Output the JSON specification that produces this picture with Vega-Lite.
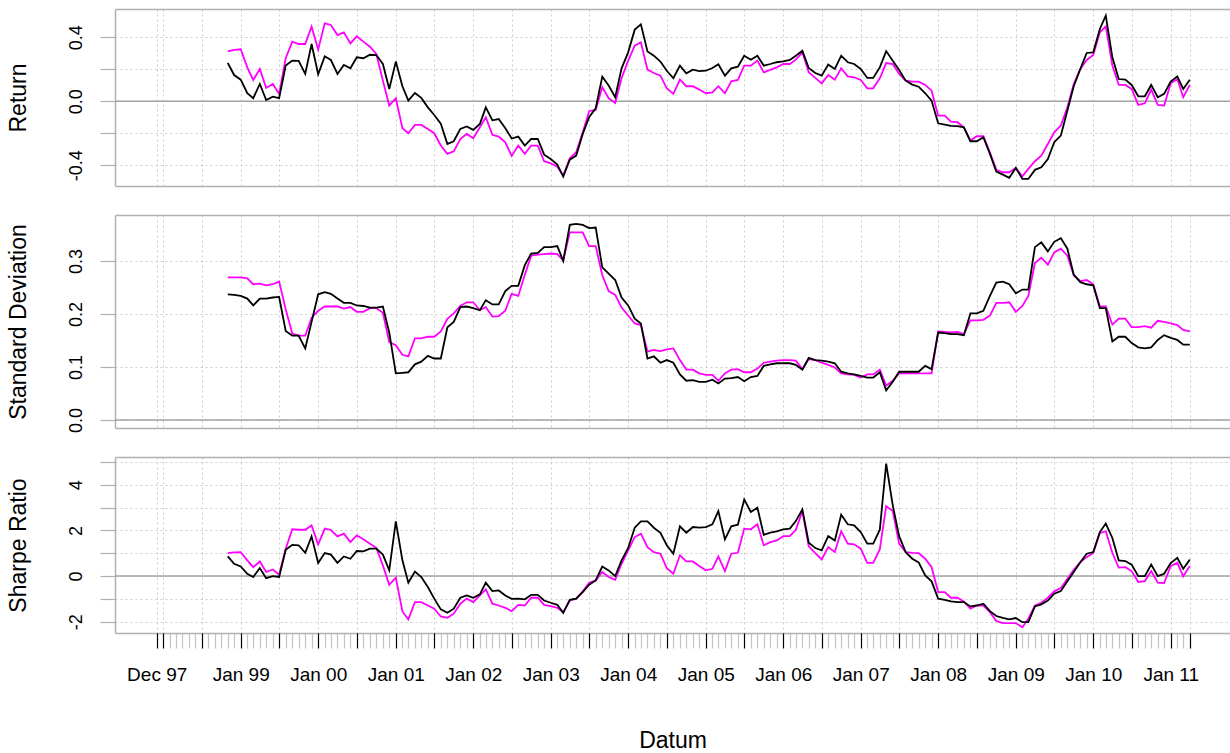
{
"$schema":"https://vega.github.io/schema/vega-lite/v6.json",
"background":"white",
"padding":{"left":7,"top":9,"right":0,"bottom":0},
"autosize":{"type":"pad"},
"spacing":29,
"bounds":"flush",
"config":{"view":{"stroke":null},"font":"Liberation Sans",
 "axis":{"labelFont":"Liberation Sans","titleFont":"Liberation Sans","labelColor":"#000000","titleColor":"#000000","titleFontWeight":"normal","gridColor":"#cccccc","gridDash":[2,3],"gridWidth":1,"domainColor":"#b0b0b0","domainWidth":1.5,"tickColor":"#b0b0b0"}},
"data":{"values":[
{"d":"1998-11-01","ra":0.239,"rb":0.312,"sa":0.237,"sb":0.269,"pa":0.86,"pb":1.01},
{"d":"1998-12-01","ra":0.164,"rb":0.321,"sa":0.236,"sb":0.269,"pa":0.54,"pb":1.04},
{"d":"1999-01-01","ra":0.135,"rb":0.325,"sa":0.234,"sb":0.269,"pa":0.42,"pb":1.05},
{"d":"1999-02-01","ra":0.050,"rb":0.212,"sa":0.229,"sb":0.267,"pa":0.10,"pb":0.69},
{"d":"1999-03-01","ra":0.019,"rb":0.133,"sa":0.216,"sb":0.256,"pa":-0.04,"pb":0.39},
{"d":"1999-04-01","ra":0.108,"rb":0.202,"sa":0.229,"sb":0.257,"pa":0.35,"pb":0.64},
{"d":"1999-05-01","ra":0.008,"rb":0.083,"sa":0.229,"sb":0.254,"pa":-0.09,"pb":0.18},
{"d":"1999-06-01","ra":0.029,"rb":0.108,"sa":0.231,"sb":0.256,"pa":0.00,"pb":0.29},
{"d":"1999-07-01","ra":0.019,"rb":0.046,"sa":0.232,"sb":0.261,"pa":-0.04,"pb":0.06},
{"d":"1999-08-01","ra":0.223,"rb":0.269,"sa":0.168,"sb":0.209,"pa":1.15,"pb":1.20},
{"d":"1999-09-01","ra":0.254,"rb":0.373,"sa":0.159,"sb":0.163,"pa":1.37,"pb":2.05},
{"d":"1999-10-01","ra":0.252,"rb":0.358,"sa":0.159,"sb":0.159,"pa":1.35,"pb":2.03},
{"d":"1999-11-01","ra":0.171,"rb":0.358,"sa":0.135,"sb":0.159,"pa":1.02,"pb":2.03},
{"d":"1999-12-01","ra":0.358,"rb":0.466,"sa":0.185,"sb":0.193,"pa":1.74,"pb":2.22},
{"d":"2000-01-01","ra":0.169,"rb":0.323,"sa":0.237,"sb":0.206,"pa":0.57,"pb":1.39},
{"d":"2000-02-01","ra":0.281,"rb":0.487,"sa":0.241,"sb":0.214,"pa":1.01,"pb":2.08},
{"d":"2000-03-01","ra":0.258,"rb":0.477,"sa":0.238,"sb":0.214,"pa":0.94,"pb":2.02},
{"d":"2000-04-01","ra":0.171,"rb":0.414,"sa":0.229,"sb":0.214,"pa":0.58,"pb":1.74},
{"d":"2000-05-01","ra":0.227,"rb":0.431,"sa":0.221,"sb":0.210,"pa":0.86,"pb":1.86},
{"d":"2000-06-01","ra":0.206,"rb":0.362,"sa":0.221,"sb":0.213,"pa":0.76,"pb":1.49},
{"d":"2000-07-01","ra":0.275,"rb":0.406,"sa":0.216,"sb":0.204,"pa":1.10,"pb":1.78},
{"d":"2000-08-01","ra":0.269,"rb":0.373,"sa":0.215,"sb":0.204,"pa":1.08,"pb":1.61},
{"d":"2000-09-01","ra":0.291,"rb":0.341,"sa":0.212,"sb":0.211,"pa":1.20,"pb":1.42},
{"d":"2000-10-01","ra":0.289,"rb":0.296,"sa":0.212,"sb":0.211,"pa":1.20,"pb":1.24},
{"d":"2000-11-01","ra":0.233,"rb":0.129,"sa":0.214,"sb":0.202,"pa":0.94,"pb":0.47},
{"d":"2000-12-01","ra":0.077,"rb":-0.027,"sa":0.165,"sb":0.147,"pa":0.25,"pb":-0.38},
{"d":"2001-01-01","ra":0.248,"rb":0.019,"sa":0.088,"sb":0.141,"pa":2.40,"pb":-0.07},
{"d":"2001-02-01","ra":0.094,"rb":-0.169,"sa":0.089,"sb":0.123,"pa":0.69,"pb":-1.55},
{"d":"2001-03-01","ra":0.004,"rb":-0.200,"sa":0.090,"sb":0.120,"pa":-0.29,"pb":-1.90},
{"d":"2001-04-01","ra":0.052,"rb":-0.148,"sa":0.105,"sb":0.154,"pa":0.20,"pb":-1.14},
{"d":"2001-05-01","ra":0.021,"rb":-0.148,"sa":0.110,"sb":0.154,"pa":-0.04,"pb":-1.14},
{"d":"2001-06-01","ra":-0.038,"rb":-0.173,"sa":0.121,"sb":0.157,"pa":-0.48,"pb":-1.29},
{"d":"2001-07-01","ra":-0.086,"rb":-0.200,"sa":0.116,"sb":0.157,"pa":-0.99,"pb":-1.43},
{"d":"2001-08-01","ra":-0.140,"rb":-0.277,"sa":0.116,"sb":0.167,"pa":-1.46,"pb":-1.77},
{"d":"2001-09-01","ra":-0.267,"rb":-0.329,"sa":0.175,"sb":0.191,"pa":-1.61,"pb":-1.83},
{"d":"2001-10-01","ra":-0.250,"rb":-0.313,"sa":0.185,"sb":0.201,"pa":-1.43,"pb":-1.65},
{"d":"2001-11-01","ra":-0.173,"rb":-0.236,"sa":0.213,"sb":0.215,"pa":-0.95,"pb":-1.21},
{"d":"2001-12-01","ra":-0.158,"rb":-0.204,"sa":0.214,"sb":0.222,"pa":-0.85,"pb":-0.99},
{"d":"2002-01-01","ra":-0.179,"rb":-0.231,"sa":0.211,"sb":0.222,"pa":-0.95,"pb":-1.14},
{"d":"2002-02-01","ra":-0.142,"rb":-0.163,"sa":0.207,"sb":0.207,"pa":-0.80,"pb":-0.85},
{"d":"2002-03-01","ra":-0.038,"rb":-0.100,"sa":0.226,"sb":0.213,"pa":-0.29,"pb":-0.58},
{"d":"2002-04-01","ra":-0.119,"rb":-0.210,"sa":0.218,"sb":0.195,"pa":-0.66,"pb":-1.21},
{"d":"2002-05-01","ra":-0.111,"rb":-0.221,"sa":0.218,"sb":0.196,"pa":-0.63,"pb":-1.29},
{"d":"2002-06-01","ra":-0.169,"rb":-0.257,"sa":0.243,"sb":0.206,"pa":-0.85,"pb":-1.39},
{"d":"2002-07-01","ra":-0.233,"rb":-0.342,"sa":0.253,"sb":0.238,"pa":-1.00,"pb":-1.54},
{"d":"2002-08-01","ra":-0.221,"rb":-0.277,"sa":0.253,"sb":0.234,"pa":-0.99,"pb":-1.26},
{"d":"2002-09-01","ra":-0.277,"rb":-0.329,"sa":0.292,"sb":0.274,"pa":-1.02,"pb":-1.29},
{"d":"2002-10-01","ra":-0.236,"rb":-0.277,"sa":0.314,"sb":0.310,"pa":-0.82,"pb":-0.95},
{"d":"2002-11-01","ra":-0.236,"rb":-0.277,"sa":0.315,"sb":0.312,"pa":-0.82,"pb":-0.95},
{"d":"2002-12-01","ra":-0.334,"rb":-0.375,"sa":0.326,"sb":0.313,"pa":-1.07,"pb":-1.26},
{"d":"2003-01-01","ra":-0.361,"rb":-0.388,"sa":0.326,"sb":0.314,"pa":-1.17,"pb":-1.32},
{"d":"2003-02-01","ra":-0.396,"rb":-0.409,"sa":0.328,"sb":0.313,"pa":-1.26,"pb":-1.39},
{"d":"2003-03-01","ra":-0.471,"rb":-0.465,"sa":0.300,"sb":0.301,"pa":-1.61,"pb":-1.58},
{"d":"2003-04-01","ra":-0.365,"rb":-0.356,"sa":0.368,"sb":0.354,"pa":-1.04,"pb":-1.07},
{"d":"2003-05-01","ra":-0.340,"rb":-0.319,"sa":0.370,"sb":0.354,"pa":-0.99,"pb":-0.99},
{"d":"2003-06-01","ra":-0.204,"rb":-0.194,"sa":0.368,"sb":0.354,"pa":-0.70,"pb":-0.67},
{"d":"2003-07-01","ra":-0.100,"rb":-0.062,"sa":0.362,"sb":0.328,"pa":-0.38,"pb":-0.29},
{"d":"2003-08-01","ra":-0.044,"rb":-0.054,"sa":0.363,"sb":0.328,"pa":-0.19,"pb":-0.19},
{"d":"2003-09-01","ra":0.154,"rb":0.087,"sa":0.288,"sb":0.273,"pa":0.42,"pb":0.18},
{"d":"2003-10-01","ra":0.098,"rb":0.019,"sa":0.276,"sb":0.243,"pa":0.25,"pb":-0.04},
{"d":"2003-11-01","ra":0.025,"rb":-0.011,"sa":0.264,"sb":0.236,"pa":0.00,"pb":-0.16},
{"d":"2003-12-01","ra":0.206,"rb":0.144,"sa":0.231,"sb":0.212,"pa":0.69,"pb":0.54},
{"d":"2004-01-01","ra":0.306,"rb":0.254,"sa":0.216,"sb":0.197,"pa":1.23,"pb":1.13},
{"d":"2004-02-01","ra":0.448,"rb":0.348,"sa":0.191,"sb":0.182,"pa":2.12,"pb":1.71},
{"d":"2004-03-01","ra":0.481,"rb":0.369,"sa":0.182,"sb":0.179,"pa":2.40,"pb":1.86},
{"d":"2004-04-01","ra":0.312,"rb":0.198,"sa":0.116,"sb":0.129,"pa":2.40,"pb":1.27},
{"d":"2004-05-01","ra":0.285,"rb":0.177,"sa":0.120,"sb":0.132,"pa":2.12,"pb":1.05},
{"d":"2004-06-01","ra":0.248,"rb":0.160,"sa":0.108,"sb":0.130,"pa":1.90,"pb":0.98},
{"d":"2004-07-01","ra":0.191,"rb":0.081,"sa":0.113,"sb":0.133,"pa":1.35,"pb":0.35},
{"d":"2004-08-01","ra":0.144,"rb":0.046,"sa":0.108,"sb":0.135,"pa":0.98,"pb":0.10},
{"d":"2004-09-01","ra":0.223,"rb":0.135,"sa":0.086,"sb":0.113,"pa":2.18,"pb":0.91},
{"d":"2004-10-01","ra":0.175,"rb":0.094,"sa":0.074,"sb":0.095,"pa":1.90,"pb":0.64},
{"d":"2004-11-01","ra":0.198,"rb":0.094,"sa":0.075,"sb":0.095,"pa":2.15,"pb":0.64},
{"d":"2004-12-01","ra":0.189,"rb":0.073,"sa":0.072,"sb":0.088,"pa":2.12,"pb":0.44},
{"d":"2005-01-01","ra":0.191,"rb":0.050,"sa":0.072,"sb":0.085,"pa":2.15,"pb":0.25},
{"d":"2005-02-01","ra":0.208,"rb":0.056,"sa":0.076,"sb":0.085,"pa":2.27,"pb":0.32},
{"d":"2005-03-01","ra":0.231,"rb":0.094,"sa":0.069,"sb":0.074,"pa":2.85,"pb":0.86},
{"d":"2005-04-01","ra":0.160,"rb":0.050,"sa":0.078,"sb":0.088,"pa":1.61,"pb":0.22},
{"d":"2005-05-01","ra":0.206,"rb":0.125,"sa":0.079,"sb":0.095,"pa":2.18,"pb":0.98},
{"d":"2005-06-01","ra":0.216,"rb":0.133,"sa":0.081,"sb":0.096,"pa":2.25,"pb":1.02},
{"d":"2005-07-01","ra":0.285,"rb":0.223,"sa":0.073,"sb":0.090,"pa":3.36,"pb":2.08},
{"d":"2005-08-01","ra":0.260,"rb":0.223,"sa":0.081,"sb":0.090,"pa":2.81,"pb":2.05},
{"d":"2005-09-01","ra":0.285,"rb":0.254,"sa":0.083,"sb":0.097,"pa":3.00,"pb":2.27},
{"d":"2005-10-01","ra":0.223,"rb":0.181,"sa":0.102,"sb":0.108,"pa":1.81,"pb":1.35},
{"d":"2005-11-01","ra":0.233,"rb":0.196,"sa":0.105,"sb":0.110,"pa":1.90,"pb":1.49},
{"d":"2005-12-01","ra":0.244,"rb":0.212,"sa":0.107,"sb":0.112,"pa":1.96,"pb":1.56},
{"d":"2006-01-01","ra":0.250,"rb":0.233,"sa":0.107,"sb":0.113,"pa":2.05,"pb":1.75},
{"d":"2006-02-01","ra":0.258,"rb":0.233,"sa":0.107,"sb":0.113,"pa":2.08,"pb":1.75},
{"d":"2006-03-01","ra":0.285,"rb":0.260,"sa":0.104,"sb":0.112,"pa":2.41,"pb":2.03},
{"d":"2006-04-01","ra":0.316,"rb":0.306,"sa":0.095,"sb":0.096,"pa":2.92,"pb":2.84},
{"d":"2006-05-01","ra":0.208,"rb":0.181,"sa":0.117,"sb":0.115,"pa":1.46,"pb":1.30},
{"d":"2006-06-01","ra":0.177,"rb":0.146,"sa":0.113,"sb":0.113,"pa":1.23,"pb":1.01},
{"d":"2006-07-01","ra":0.160,"rb":0.112,"sa":0.112,"sb":0.108,"pa":1.13,"pb":0.73},
{"d":"2006-08-01","ra":0.229,"rb":0.164,"sa":0.110,"sb":0.104,"pa":1.75,"pb":1.27},
{"d":"2006-09-01","ra":0.202,"rb":0.135,"sa":0.107,"sb":0.099,"pa":1.56,"pb":1.05},
{"d":"2006-10-01","ra":0.285,"rb":0.206,"sa":0.091,"sb":0.088,"pa":2.69,"pb":1.96},
{"d":"2006-11-01","ra":0.244,"rb":0.156,"sa":0.088,"sb":0.086,"pa":2.27,"pb":1.42},
{"d":"2006-12-01","ra":0.233,"rb":0.150,"sa":0.086,"sb":0.085,"pa":2.22,"pb":1.39},
{"d":"2007-01-01","ra":0.202,"rb":0.133,"sa":0.083,"sb":0.080,"pa":1.93,"pb":1.20},
{"d":"2007-02-01","ra":0.146,"rb":0.081,"sa":0.080,"sb":0.086,"pa":1.42,"pb":0.58},
{"d":"2007-03-01","ra":0.146,"rb":0.081,"sa":0.080,"sb":0.086,"pa":1.42,"pb":0.58},
{"d":"2007-04-01","ra":0.212,"rb":0.144,"sa":0.090,"sb":0.095,"pa":2.03,"pb":1.17},
{"d":"2007-05-01","ra":0.314,"rb":0.239,"sa":0.056,"sb":0.065,"pa":4.93,"pb":3.07},
{"d":"2007-06-01","ra":0.254,"rb":0.233,"sa":0.072,"sb":0.074,"pa":3.10,"pb":2.85},
{"d":"2007-07-01","ra":0.196,"rb":0.171,"sa":0.091,"sb":0.088,"pa":1.75,"pb":1.42},
{"d":"2007-08-01","ra":0.129,"rb":0.129,"sa":0.091,"sb":0.088,"pa":1.05,"pb":1.05},
{"d":"2007-09-01","ra":0.104,"rb":0.123,"sa":0.091,"sb":0.088,"pa":0.76,"pb":1.02},
{"d":"2007-10-01","ra":0.091,"rb":0.123,"sa":0.091,"sb":0.088,"pa":0.60,"pb":1.01},
{"d":"2007-11-01","ra":0.050,"rb":0.102,"sa":0.102,"sb":0.088,"pa":0.03,"pb":0.76},
{"d":"2007-12-01","ra":0.004,"rb":0.066,"sa":0.096,"sb":0.088,"pa":-0.23,"pb":0.39},
{"d":"2008-01-01","ra":-0.138,"rb":-0.090,"sa":0.165,"sb":0.167,"pa":-0.99,"pb":-0.70},
{"d":"2008-02-01","ra":-0.146,"rb":-0.090,"sa":0.164,"sb":0.166,"pa":-1.04,"pb":-0.70},
{"d":"2008-03-01","ra":-0.154,"rb":-0.127,"sa":0.162,"sb":0.165,"pa":-1.11,"pb":-0.95},
{"d":"2008-04-01","ra":-0.156,"rb":-0.131,"sa":0.162,"sb":0.166,"pa":-1.14,"pb":-0.95},
{"d":"2008-05-01","ra":-0.163,"rb":-0.163,"sa":0.160,"sb":0.162,"pa":-1.14,"pb":-1.11},
{"d":"2008-06-01","ra":-0.250,"rb":-0.246,"sa":0.201,"sb":0.188,"pa":-1.33,"pb":-1.43},
{"d":"2008-07-01","ra":-0.250,"rb":-0.219,"sa":0.201,"sb":0.188,"pa":-1.29,"pb":-1.29},
{"d":"2008-08-01","ra":-0.225,"rb":-0.219,"sa":0.206,"sb":0.189,"pa":-1.21,"pb":-1.29},
{"d":"2008-09-01","ra":-0.329,"rb":-0.319,"sa":0.234,"sb":0.197,"pa":-1.54,"pb":-1.58},
{"d":"2008-10-01","ra":-0.440,"rb":-0.429,"sa":0.259,"sb":0.221,"pa":-1.75,"pb":-1.97},
{"d":"2008-11-01","ra":-0.459,"rb":-0.444,"sa":0.261,"sb":0.221,"pa":-1.83,"pb":-2.06},
{"d":"2008-12-01","ra":-0.479,"rb":-0.444,"sa":0.256,"sb":0.222,"pa":-1.90,"pb":-2.06},
{"d":"2009-01-01","ra":-0.417,"rb":-0.417,"sa":0.239,"sb":0.204,"pa":-1.84,"pb":-2.06},
{"d":"2009-02-01","ra":-0.486,"rb":-0.469,"sa":0.246,"sb":0.215,"pa":-2.02,"pb":-2.24},
{"d":"2009-03-01","ra":-0.486,"rb":-0.423,"sa":0.246,"sb":0.234,"pa":-2.02,"pb":-1.87},
{"d":"2009-04-01","ra":-0.429,"rb":-0.375,"sa":0.326,"sb":0.296,"pa":-1.33,"pb":-1.29},
{"d":"2009-05-01","ra":-0.413,"rb":-0.340,"sa":0.335,"sb":0.306,"pa":-1.24,"pb":-1.17},
{"d":"2009-06-01","ra":-0.361,"rb":-0.267,"sa":0.318,"sb":0.293,"pa":-1.07,"pb":-0.95},
{"d":"2009-07-01","ra":-0.256,"rb":-0.194,"sa":0.336,"sb":0.316,"pa":-0.77,"pb":-0.67},
{"d":"2009-08-01","ra":-0.215,"rb":-0.152,"sa":0.343,"sb":0.323,"pa":-0.66,"pb":-0.53},
{"d":"2009-09-01","ra":-0.058,"rb":-0.038,"sa":0.323,"sb":0.310,"pa":-0.23,"pb":-0.12},
{"d":"2009-10-01","ra":0.094,"rb":0.108,"sa":0.274,"sb":0.273,"pa":0.18,"pb":0.28},
{"d":"2009-11-01","ra":0.202,"rb":0.202,"sa":0.260,"sb":0.262,"pa":0.61,"pb":0.61},
{"d":"2009-12-01","ra":0.302,"rb":0.258,"sa":0.256,"sb":0.264,"pa":0.98,"pb":0.83},
{"d":"2010-01-01","ra":0.306,"rb":0.289,"sa":0.254,"sb":0.256,"pa":1.05,"pb":1.01},
{"d":"2010-02-01","ra":0.452,"rb":0.431,"sa":0.211,"sb":0.214,"pa":1.93,"pb":1.89},
{"d":"2010-03-01","ra":0.535,"rb":0.468,"sa":0.211,"sb":0.214,"pa":2.30,"pb":1.96},
{"d":"2010-04-01","ra":0.275,"rb":0.223,"sa":0.148,"sb":0.180,"pa":1.67,"pb":1.02},
{"d":"2010-05-01","ra":0.139,"rb":0.102,"sa":0.157,"sb":0.191,"pa":0.69,"pb":0.37},
{"d":"2010-06-01","ra":0.135,"rb":0.102,"sa":0.157,"sb":0.191,"pa":0.66,"pb":0.39},
{"d":"2010-07-01","ra":0.102,"rb":0.077,"sa":0.145,"sb":0.175,"pa":0.50,"pb":0.22},
{"d":"2010-08-01","ra":0.031,"rb":-0.023,"sa":0.137,"sb":0.175,"pa":0.00,"pb":-0.26},
{"d":"2010-09-01","ra":0.031,"rb":-0.013,"sa":0.135,"sb":0.177,"pa":0.00,"pb":-0.22},
{"d":"2010-10-01","ra":0.102,"rb":0.073,"sa":0.137,"sb":0.174,"pa":0.50,"pb":0.22},
{"d":"2010-11-01","ra":0.025,"rb":-0.023,"sa":0.151,"sb":0.187,"pa":0.00,"pb":-0.29},
{"d":"2010-12-01","ra":0.046,"rb":-0.027,"sa":0.160,"sb":0.185,"pa":0.10,"pb":-0.31},
{"d":"2011-01-01","ra":0.123,"rb":0.112,"sa":0.155,"sb":0.182,"pa":0.57,"pb":0.44},
{"d":"2011-02-01","ra":0.156,"rb":0.139,"sa":0.151,"sb":0.179,"pa":0.80,"pb":0.58},
{"d":"2011-03-01","ra":0.077,"rb":0.025,"sa":0.142,"sb":0.170,"pa":0.32,"pb":-0.01},
{"d":"2011-04-01","ra":0.135,"rb":0.102,"sa":0.142,"sb":0.167,"pa":0.72,"pb":0.44}
]},
"vconcat":[
{"width":1115,"height":177,
 "layer":[
  {"data":{"values":[{}]},"mark":{"type":"rule","color":"#a3a3a3","strokeWidth":1.5},"encoding":{"y":{"datum":0,"type":"quantitative","scale":{"domain":[-0.530,0.577],"nice":false,"zero":false},"axis":null}}},
  {"mark":{"type":"line","color":"#ff00ff","strokeWidth":1.8},"encoding":{
    "x":{"field":"d","type":"temporal","scale":{"type":"utc","domain":[{"year":1997,"month":5,"date":18,"hours":12,"utc":true},{"year":2011,"month":10,"date":7,"hours":10,"utc":true}]},"axis":{"orient":"bottom","domain":true,"ticks":false,"labels":false,"grid":false,"title":null}},
    "y":{"field":"rb","type":"quantitative","scale":{"domain":[-0.530,0.577],"nice":false,"zero":false},"axis":null}}},
  {"mark":{"type":"line","color":"#000000","strokeWidth":1.8},"encoding":{
    "x":{"field":"d","type":"temporal","scale":{"type":"utc","domain":[{"year":1997,"month":5,"date":18,"hours":12,"utc":true},{"year":2011,"month":10,"date":7,"hours":10,"utc":true}]},"axis":{"orient":"bottom","domain":false,"ticks":false,"labels":false,"grid":true,"title":null,
      "values":[{"year":1997,"month":12,"utc":true},{"year":1998,"month":1,"utc":true},{"year":1998,"month":7,"utc":true},{"year":1999,"month":1,"utc":true},{"year":1999,"month":7,"utc":true},{"year":2000,"month":1,"utc":true},{"year":2000,"month":7,"utc":true},{"year":2001,"month":1,"utc":true},{"year":2001,"month":7,"utc":true},{"year":2002,"month":1,"utc":true},{"year":2002,"month":7,"utc":true},{"year":2003,"month":1,"utc":true},{"year":2003,"month":7,"utc":true},{"year":2004,"month":1,"utc":true},{"year":2004,"month":7,"utc":true},{"year":2005,"month":1,"utc":true},{"year":2005,"month":7,"utc":true},{"year":2006,"month":1,"utc":true},{"year":2006,"month":7,"utc":true},{"year":2007,"month":1,"utc":true},{"year":2007,"month":7,"utc":true},{"year":2008,"month":1,"utc":true},{"year":2008,"month":7,"utc":true},{"year":2009,"month":1,"utc":true},{"year":2009,"month":7,"utc":true},{"year":2010,"month":1,"utc":true},{"year":2010,"month":7,"utc":true},{"year":2011,"month":1,"utc":true},{"year":2011,"month":4,"utc":true}]}},
    "y":{"field":"ra","type":"quantitative","scale":{"domain":[-0.530,0.577],"nice":false,"zero":false},"axis":{"orient":"left","values":[-0.4,-0.2,0,0.2,0.4],"domain":true,"ticks":true,"tickSize":15,"tickWidth":1.2,"grid":true,"labelAngle":270,"labelAlign":"center","labelBaseline":"alphabetic","labelPadding":19,"labelFontSize":18,"labelExpr":"abs(datum.value) > 0.1 && abs(datum.value) < 0.3 ? '' : (datum.value < 0 ? '-' : '') + format(abs(datum.value), '.1f')","title":"Return","titleAngle":270,"titleX":-90,"titleY":88.5,"titleAlign":"center","titleBaseline":"alphabetic","titleFontSize":23}}}},
  {"data":{"values":[{"d":"2000-01-01"}]},"mark":{"type":"point","opacity":0},"encoding":{
    "x":{"field":"d","type":"temporal","scale":{"type":"utc","domain":[{"year":1997,"month":5,"date":18,"hours":12,"utc":true},{"year":2011,"month":10,"date":7,"hours":10,"utc":true}]},"axis":{"orient":"top","domain":true,"ticks":false,"labels":false,"grid":false,"title":null}}}}
 ],
 "resolve":{"axis":{"x":"independent","y":"independent"}}
},
{"width":1115,"height":213,
 "layer":[
  {"data":{"values":[{}]},"mark":{"type":"rule","color":"#a3a3a3","strokeWidth":1.5},"encoding":{"y":{"datum":0,"type":"quantitative","scale":{"domain":[-0.0151,0.3866],"nice":false,"zero":false},"axis":null}}},
  {"mark":{"type":"line","color":"#ff00ff","strokeWidth":1.8},"encoding":{
    "x":{"field":"d","type":"temporal","scale":{"type":"utc","domain":[{"year":1997,"month":5,"date":18,"hours":12,"utc":true},{"year":2011,"month":10,"date":7,"hours":10,"utc":true}]},"axis":{"orient":"bottom","domain":true,"ticks":false,"labels":false,"grid":false,"title":null}},
    "y":{"field":"sb","type":"quantitative","scale":{"domain":[-0.0151,0.3866],"nice":false,"zero":false},"axis":null}}},
  {"mark":{"type":"line","color":"#000000","strokeWidth":1.8},"encoding":{
    "x":{"field":"d","type":"temporal","scale":{"type":"utc","domain":[{"year":1997,"month":5,"date":18,"hours":12,"utc":true},{"year":2011,"month":10,"date":7,"hours":10,"utc":true}]},"axis":{"orient":"bottom","domain":false,"ticks":false,"labels":false,"grid":true,"title":null,
      "values":[{"year":1997,"month":12,"utc":true},{"year":1998,"month":1,"utc":true},{"year":1998,"month":7,"utc":true},{"year":1999,"month":1,"utc":true},{"year":1999,"month":7,"utc":true},{"year":2000,"month":1,"utc":true},{"year":2000,"month":7,"utc":true},{"year":2001,"month":1,"utc":true},{"year":2001,"month":7,"utc":true},{"year":2002,"month":1,"utc":true},{"year":2002,"month":7,"utc":true},{"year":2003,"month":1,"utc":true},{"year":2003,"month":7,"utc":true},{"year":2004,"month":1,"utc":true},{"year":2004,"month":7,"utc":true},{"year":2005,"month":1,"utc":true},{"year":2005,"month":7,"utc":true},{"year":2006,"month":1,"utc":true},{"year":2006,"month":7,"utc":true},{"year":2007,"month":1,"utc":true},{"year":2007,"month":7,"utc":true},{"year":2008,"month":1,"utc":true},{"year":2008,"month":7,"utc":true},{"year":2009,"month":1,"utc":true},{"year":2009,"month":7,"utc":true},{"year":2010,"month":1,"utc":true},{"year":2010,"month":7,"utc":true},{"year":2011,"month":1,"utc":true},{"year":2011,"month":4,"utc":true}]}},
    "y":{"field":"sa","type":"quantitative","scale":{"domain":[-0.0151,0.3866],"nice":false,"zero":false},"axis":{"orient":"left","values":[0,0.1,0.2,0.3],"domain":true,"ticks":true,"tickSize":15,"tickWidth":1.2,"grid":true,"labelAngle":270,"labelAlign":"center","labelBaseline":"alphabetic","labelPadding":19,"labelFontSize":18,"labelExpr":"format(datum.value, '.1f')","title":"Standard Deviation","titleAngle":270,"titleX":-90,"titleY":106.5,"titleAlign":"center","titleBaseline":"alphabetic","titleFontSize":23}}}},
  {"data":{"values":[{"d":"2000-01-01"}]},"mark":{"type":"point","opacity":0},"encoding":{
    "x":{"field":"d","type":"temporal","scale":{"type":"utc","domain":[{"year":1997,"month":5,"date":18,"hours":12,"utc":true},{"year":2011,"month":10,"date":7,"hours":10,"utc":true}]},"axis":{"orient":"top","domain":true,"ticks":false,"labels":false,"grid":false,"title":null}}}}
 ],
 "resolve":{"axis":{"x":"independent","y":"independent"}}
},
{"width":1115,"height":176,
 "layer":[
  {"data":{"values":[{}]},"mark":{"type":"rule","color":"#a3a3a3","strokeWidth":1.5},"encoding":{"y":{"datum":0,"type":"quantitative","scale":{"domain":[-2.495,5.219],"nice":false,"zero":false},"axis":null}}},
  {"mark":{"type":"line","color":"#ff00ff","strokeWidth":1.8},"encoding":{
    "x":{"field":"d","type":"temporal","scale":{"type":"utc","domain":[{"year":1997,"month":5,"date":18,"hours":12,"utc":true},{"year":2011,"month":10,"date":7,"hours":10,"utc":true}]},"axis":{"orient":"bottom","domain":true,"ticks":true,"tickColor":"#c4c4c4","tickSize":15,"tickWidth":1.2,"labels":false,"grid":false,"title":null,
      "values":[{"year":1998,"month":2,"utc":true},{"year":1998,"month":3,"utc":true},{"year":1998,"month":4,"utc":true},{"year":1998,"month":5,"utc":true},{"year":1998,"month":6,"utc":true},{"year":1998,"month":8,"utc":true},{"year":1998,"month":9,"utc":true},{"year":1998,"month":10,"utc":true},{"year":1998,"month":11,"utc":true},{"year":1998,"month":12,"utc":true},
      {"year":1999,"month":2,"utc":true},{"year":1999,"month":3,"utc":true},{"year":1999,"month":4,"utc":true},{"year":1999,"month":5,"utc":true},{"year":1999,"month":6,"utc":true},{"year":1999,"month":8,"utc":true},{"year":1999,"month":9,"utc":true},{"year":1999,"month":10,"utc":true},{"year":1999,"month":11,"utc":true},{"year":1999,"month":12,"utc":true},
      {"year":2000,"month":2,"utc":true},{"year":2000,"month":3,"utc":true},{"year":2000,"month":4,"utc":true},{"year":2000,"month":5,"utc":true},{"year":2000,"month":6,"utc":true},{"year":2000,"month":8,"utc":true},{"year":2000,"month":9,"utc":true},{"year":2000,"month":10,"utc":true},{"year":2000,"month":11,"utc":true},{"year":2000,"month":12,"utc":true},
      {"year":2001,"month":2,"utc":true},{"year":2001,"month":3,"utc":true},{"year":2001,"month":4,"utc":true},{"year":2001,"month":5,"utc":true},{"year":2001,"month":6,"utc":true},{"year":2001,"month":8,"utc":true},{"year":2001,"month":9,"utc":true},{"year":2001,"month":10,"utc":true},{"year":2001,"month":11,"utc":true},{"year":2001,"month":12,"utc":true},
      {"year":2002,"month":2,"utc":true},{"year":2002,"month":3,"utc":true},{"year":2002,"month":4,"utc":true},{"year":2002,"month":5,"utc":true},{"year":2002,"month":6,"utc":true},{"year":2002,"month":8,"utc":true},{"year":2002,"month":9,"utc":true},{"year":2002,"month":10,"utc":true},{"year":2002,"month":11,"utc":true},{"year":2002,"month":12,"utc":true},
      {"year":2003,"month":2,"utc":true},{"year":2003,"month":3,"utc":true},{"year":2003,"month":4,"utc":true},{"year":2003,"month":5,"utc":true},{"year":2003,"month":6,"utc":true},{"year":2003,"month":8,"utc":true},{"year":2003,"month":9,"utc":true},{"year":2003,"month":10,"utc":true},{"year":2003,"month":11,"utc":true},{"year":2003,"month":12,"utc":true},
      {"year":2004,"month":2,"utc":true},{"year":2004,"month":3,"utc":true},{"year":2004,"month":4,"utc":true},{"year":2004,"month":5,"utc":true},{"year":2004,"month":6,"utc":true},{"year":2004,"month":8,"utc":true},{"year":2004,"month":9,"utc":true},{"year":2004,"month":10,"utc":true},{"year":2004,"month":11,"utc":true},{"year":2004,"month":12,"utc":true},
      {"year":2005,"month":2,"utc":true},{"year":2005,"month":3,"utc":true},{"year":2005,"month":4,"utc":true},{"year":2005,"month":5,"utc":true},{"year":2005,"month":6,"utc":true},{"year":2005,"month":8,"utc":true},{"year":2005,"month":9,"utc":true},{"year":2005,"month":10,"utc":true},{"year":2005,"month":11,"utc":true},{"year":2005,"month":12,"utc":true},
      {"year":2006,"month":2,"utc":true},{"year":2006,"month":3,"utc":true},{"year":2006,"month":4,"utc":true},{"year":2006,"month":5,"utc":true},{"year":2006,"month":6,"utc":true},{"year":2006,"month":8,"utc":true},{"year":2006,"month":9,"utc":true},{"year":2006,"month":10,"utc":true},{"year":2006,"month":11,"utc":true},{"year":2006,"month":12,"utc":true},
      {"year":2007,"month":2,"utc":true},{"year":2007,"month":3,"utc":true},{"year":2007,"month":4,"utc":true},{"year":2007,"month":5,"utc":true},{"year":2007,"month":6,"utc":true},{"year":2007,"month":8,"utc":true},{"year":2007,"month":9,"utc":true},{"year":2007,"month":10,"utc":true},{"year":2007,"month":11,"utc":true},{"year":2007,"month":12,"utc":true},
      {"year":2008,"month":2,"utc":true},{"year":2008,"month":3,"utc":true},{"year":2008,"month":4,"utc":true},{"year":2008,"month":5,"utc":true},{"year":2008,"month":6,"utc":true},{"year":2008,"month":8,"utc":true},{"year":2008,"month":9,"utc":true},{"year":2008,"month":10,"utc":true},{"year":2008,"month":11,"utc":true},{"year":2008,"month":12,"utc":true},
      {"year":2009,"month":2,"utc":true},{"year":2009,"month":3,"utc":true},{"year":2009,"month":4,"utc":true},{"year":2009,"month":5,"utc":true},{"year":2009,"month":6,"utc":true},{"year":2009,"month":8,"utc":true},{"year":2009,"month":9,"utc":true},{"year":2009,"month":10,"utc":true},{"year":2009,"month":11,"utc":true},{"year":2009,"month":12,"utc":true},
      {"year":2010,"month":2,"utc":true},{"year":2010,"month":3,"utc":true},{"year":2010,"month":4,"utc":true},{"year":2010,"month":5,"utc":true},{"year":2010,"month":6,"utc":true},{"year":2010,"month":8,"utc":true},{"year":2010,"month":9,"utc":true},{"year":2010,"month":10,"utc":true},{"year":2010,"month":11,"utc":true},{"year":2010,"month":12,"utc":true},
      {"year":2011,"month":2,"utc":true},{"year":2011,"month":3,"utc":true}]}},
    "y":{"field":"pb","type":"quantitative","scale":{"domain":[-2.495,5.219],"nice":false,"zero":false},"axis":null}}},
  {"mark":{"type":"line","color":"#000000","strokeWidth":1.8},"encoding":{
    "x":{"field":"d","type":"temporal","scale":{"type":"utc","domain":[{"year":1997,"month":5,"date":18,"hours":12,"utc":true},{"year":2011,"month":10,"date":7,"hours":10,"utc":true}]},"axis":{"orient":"bottom","domain":false,"ticks":true,"tickColor":"#000000","tickSize":15,"tickWidth":1.2,"grid":true,"labels":true,"labelFontSize":19,"labelPadding":17,"labelBaseline":"top","labelAlign":"center","labelOverlap":false,"labelFlush":false,
      "labelExpr":"(utcmonth(datum.value) == 0 && utcyear(datum.value) > 1998) || utcyear(datum.value) == 1997 ? utcFormat(datum.value, '%b %y') : ''",
      "title":"Datum","titleFontSize":23,"titleY":114,"titleBaseline":"alphabetic",
      "values":[{"year":1997,"month":12,"utc":true},{"year":1998,"month":1,"utc":true},{"year":1998,"month":7,"utc":true},{"year":1999,"month":1,"utc":true},{"year":1999,"month":7,"utc":true},{"year":2000,"month":1,"utc":true},{"year":2000,"month":7,"utc":true},{"year":2001,"month":1,"utc":true},{"year":2001,"month":7,"utc":true},{"year":2002,"month":1,"utc":true},{"year":2002,"month":7,"utc":true},{"year":2003,"month":1,"utc":true},{"year":2003,"month":7,"utc":true},{"year":2004,"month":1,"utc":true},{"year":2004,"month":7,"utc":true},{"year":2005,"month":1,"utc":true},{"year":2005,"month":7,"utc":true},{"year":2006,"month":1,"utc":true},{"year":2006,"month":7,"utc":true},{"year":2007,"month":1,"utc":true},{"year":2007,"month":7,"utc":true},{"year":2008,"month":1,"utc":true},{"year":2008,"month":7,"utc":true},{"year":2009,"month":1,"utc":true},{"year":2009,"month":7,"utc":true},{"year":2010,"month":1,"utc":true},{"year":2010,"month":7,"utc":true},{"year":2011,"month":1,"utc":true},{"year":2011,"month":4,"utc":true}]}},
    "y":{"field":"pa","type":"quantitative","scale":{"domain":[-2.495,5.219],"nice":false,"zero":false},"axis":{"orient":"left","values":[-2,-1,0,1,2,3,4,5],"domain":true,"ticks":true,"tickSize":15,"tickWidth":1.2,"grid":true,"labelAngle":270,"labelAlign":"center","labelBaseline":"alphabetic","labelPadding":19,"labelFontSize":18,"labelExpr":"datum.value % 2 != 0 ? '' : (datum.value < 0 ? '-' : '') + format(abs(datum.value), 'd')","title":"Sharpe Ratio","titleAngle":270,"titleX":-90,"titleY":88,"titleAlign":"center","titleBaseline":"alphabetic","titleFontSize":23}}}},
  {"data":{"values":[{"d":"2000-01-01"}]},"mark":{"type":"point","opacity":0},"encoding":{
    "x":{"field":"d","type":"temporal","scale":{"type":"utc","domain":[{"year":1997,"month":5,"date":18,"hours":12,"utc":true},{"year":2011,"month":10,"date":7,"hours":10,"utc":true}]},"axis":{"orient":"top","domain":true,"ticks":false,"labels":false,"grid":false,"title":null}}}}
 ],
 "resolve":{"axis":{"x":"independent","y":"independent"}}
}
]
}
